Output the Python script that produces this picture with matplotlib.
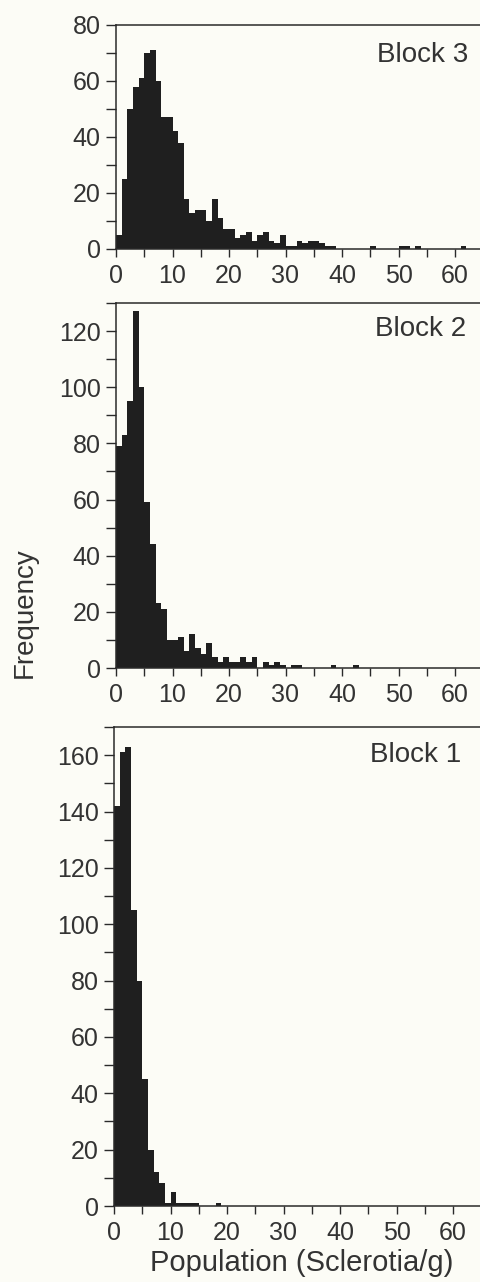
import numpy as np
import matplotlib
matplotlib.use("Agg")
import matplotlib.pyplot as plt
from matplotlib.ticker import MultipleLocator

# counts per 1-unit bin, starting at 0
block3 = [5, 25, 50, 58, 61, 70, 71, 60, 47, 47, 42, 38, 18, 13, 14, 14, 10, 18, 11, 7,
          7, 4, 5, 6, 3, 5, 6, 3, 2, 5, 1, 1, 3, 2, 3, 3, 2, 1, 1, 0,
          0, 0, 0, 0, 0, 1, 0, 0, 0, 0, 1, 1, 0, 1, 0, 0, 0, 0, 0, 0,
          0, 1]
block2 = [79, 83, 95, 127, 100, 59, 44, 23, 21, 10, 10, 11, 6, 12, 7, 5, 9, 4, 2, 4,
          2, 2, 4, 2, 4, 0, 2, 1, 2, 1, 0, 1, 1, 0, 0, 0, 0, 0, 1, 0,
          0, 0, 1]
block1 = [142, 161, 163, 105, 80, 45, 20, 12, 8, 1, 5, 1, 1, 1, 1, 0, 0, 0, 1]

panel_names = ["Block 3", "Block 2", "Block 1"]
panel_counts = [block3, block2, block1]
panel_ymax = [80, 130, 170]
xticks = [0, 10, 20, 30, 40, 50, 60]

W, H = 480, 1282
bg = "#fcfcf6"
ink = "#1f1f1f"
txt = "#333333"
plt.rcParams['font.family'] = ['Liberation Sans', 'DejaVu Sans']

fig = plt.figure(figsize=(W / 100, H / 100), dpi=100, facecolor=bg)

# pixel boxes: left spine x, top y, bottom y
boxes = [(116, 25, 249), (116, 303, 668), (114, 727, 1206)]
label_pos = [(468, 42), (466, 316), (461, 742)]
px_per_unit = 5.65

for name, counts, ymax, (lx, ty, by), (tx, tyy) in zip(panel_names, panel_counts, panel_ymax, boxes, label_pos):
    ax = fig.add_axes([lx / W, 1 - by / H, 1 - lx / W, (by - ty) / H])
    ax.set_facecolor(bg)
    edges = np.arange(len(counts))
    ax.bar(edges, counts, width=1.0, align='edge', color=ink, linewidth=0)
    ax.set_xlim(0, (W - lx) / px_per_unit)
    ax.set_ylim(0, ymax)
    ax.set_xticks(xticks)
    ax.xaxis.set_minor_locator(MultipleLocator(5))
    ax.yaxis.set_major_locator(MultipleLocator(20))
    ax.yaxis.set_minor_locator(MultipleLocator(10))
    ax.spines['right'].set_visible(False)
    for s in ['left', 'top', 'bottom']:
        ax.spines[s].set_linewidth(1.1)
        ax.spines[s].set_color('#2a2a2a')
    ax.tick_params(axis='both', which='both', direction='out', width=1.0, colors='#2a2a2a',
                   labelcolor=txt, labelsize=18)
    ax.tick_params(axis='y', which='both', length=7, pad=4)
    ax.tick_params(axis='x', which='both', length=6, pad=5)
    fig.text(tx / W, 1 - tyy / H, name, ha='right', va='top', fontsize=20, color=txt)

fig.text(25 / W, 1 - 613 / H, "Frequency", rotation=90, ha='center', va='center',
         fontsize=20, color=txt)
fig.text(302 / W, 1 - 1263 / H, "Population (Sclerotia/g)", ha='center', va='center',
         fontsize=21, color=txt)

fig.savefig("out.png", dpi=100, facecolor=bg)
